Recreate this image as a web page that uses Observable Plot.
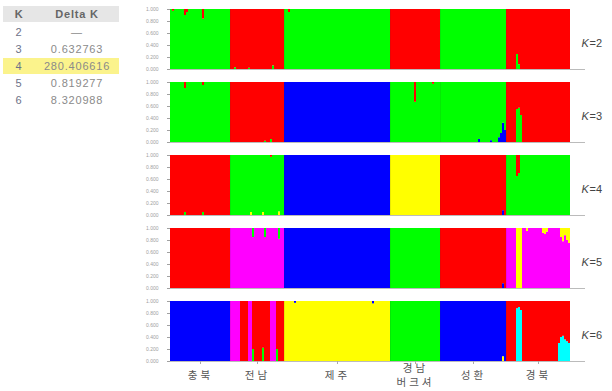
<!DOCTYPE html>
<html><head><meta charset="utf-8">
<script src="https://cdn.jsdelivr.net/npm/d3@7"></script>
<script src="https://cdn.jsdelivr.net/npm/@observablehq/plot@0.6"></script>
<style>
body{margin:0;background:#fff;}
#wrap{position:relative;width:612px;height:391px;overflow:hidden;}
#tbl{position:absolute;left:0;top:0;width:125px;height:112px;font-family:"Liberation Sans",Arial,sans-serif;font-size:11px;letter-spacing:0.8px;z-index:2;}
.row{position:absolute;left:3px;width:116px;height:16px;line-height:16px;color:#8a8a8a;}
.row.head{background:#e6e6e6;color:#666;font-weight:bold;}
.row.hl{background:#fbf38c;}
.k{position:absolute;left:8px;width:16px;text-align:center;color:#6d7288;}
.head .k{color:#666;}
.d{position:absolute;left:32px;width:84px;text-align:center;}
</style></head><body><div id="wrap"><div id="tbl"></div></div>
<script>
// ---- table data ----
const kValues = [2, 3, 4, 5, 6];
const deltaK = ["—", "0.632763", "280.406616", "0.819277", "8.320988"];
const highlightK = 4;

// ---- populations ----
const groupNames = ["충북", "전남", "제주", "경남\n버크셔", "성환", "경북"];
const groupSizes = [30, 27, 53, 25, 33, 32]; // individuals per population (estimated)

// ---- cluster colours ----
const clusterColors = {R: "#ff0000", G: "#00ff00", B: "#0000ff", Y: "#ffff00", M: "#ff00ff", C: "#00ffff"};

// main cluster of each population, per K (rows = K 2..6)
const baseByK = [
  ["G", "R", "G", "R", "G", "R"],
  ["G", "R", "B", "G", "G", "R"],
  ["R", "G", "B", "Y", "R", "G"],
  ["R", "M", "B", "G", "R", "M"],
  ["B", "R", "Y", "G", "B", "R"]
];
// bottom-to-top order of clusters in each bar, per K
const stackOrder = ["GR", "BGR", "BYGR", "BRMGY", "CYGBMR"];

// admixed individuals: [K, individual index, cluster, membership q]
const admixture = [
  [2,1,"R",0.03],[2,7,"R",0.1],[2,8,"R",0.05],[2,16,"R",0.16],
  [2,32,"G",0.03],[2,39,"G",0.02],[2,51,"G",0.06],[2,59,"R",0.05],
  [2,173,"G",0.25],[2,174,"G",0.08],
  [3,7,"R",0.1],[3,16,"R",0.05],[3,47,"G",0.02],[3,50,"G",0.05],
  [3,122,"R",0.33],[3,131,"R",0.03],
  [3,154,"B",0.05],[3,160,"B",0.03],[3,164,"B",0.08],[3,165,"B",0.15],[3,166,"B",0.32],[3,167,"B",0.2],
  [3,173,"G",0.55],[3,174,"G",0.57],[3,175,"G",0.45],
  [4,7,"G",0.05],[4,16,"G",0.05],[4,40,"Y",0.05],[4,46,"Y",0.05],[4,54,"Y",0.06],[4,50,"R",0.03],
  [4,166,"B",0.08],[4,173,"R",0.35],[4,174,"R",0.3],
  [5,41,"G",0.15],[5,47,"G",0.15],[5,54,"G",0.18],[5,166,"B",0.08],
  [5,173,"Y",1],[5,174,"Y",1],[5,175,"Y",1],[5,178,"Y",0.05],
  [5,186,"Y",0.08],[5,187,"Y",0.1],[5,188,"Y",0.06],
  [5,195,"Y",0.15],[5,196,"Y",0.22],[5,197,"Y",0.12],[5,198,"Y",0.2],[5,199,"Y",0.25],
  [6,30,"M",1],[6,31,"M",1],[6,32,"M",1],[6,33,"M",1],[6,34,"M",1],
  [6,39,"M",1],[6,40,"M",1],[6,50,"M",1],[6,51,"M",1],[6,52,"M",1],
  [6,41,"G",0.2],[6,46,"G",0.22],[6,53,"G",0.2],
  [6,62,"B",0.03],[6,101,"B",0.04],[6,166,"Y",0.08],
  [6,173,"C",0.88],[6,174,"C",0.9],[6,175,"C",0.85],
  [6,194,"C",0.3],[6,195,"C",0.4],[6,196,"C",0.42],[6,197,"C",0.36],[6,198,"C",0.33],[6,199,"C",0.3]
];

// ---- table ----
const tbl = document.getElementById("tbl");
const rowTops = [6, 24, 41, 58, 75, 92];
function addRow(top, k, d, cls) {
  const r = document.createElement("div");
  r.className = "row " + cls;
  r.style.top = top + "px";
  r.innerHTML = `<span class="k">${k}</span><span class="d">${d}</span>`;
  tbl.appendChild(r);
}
addRow(rowTops[0], "K", "Delta K", "head");
kValues.forEach((k, i) => addRow(rowTops[i + 1], k, deltaK[i], k === highlightK ? "hl" : ""));

// ---- build bar segments ----
const N = d3.sum(groupSizes);
const rects = [];
kValues.forEach((K, ki) => {
  const order = stackOrder[ki].split("");
  let i = 0;
  groupSizes.forEach((size, g) => {
    for (let j = 0; j < size; j++, i++) {
      const comp = new Map();
      let rest = 1;
      for (const a of admixture) {
        if (a[0] === K && a[1] === i) { comp.set(a[2], (comp.get(a[2]) || 0) + a[3]); rest -= a[3]; }
      }
      const base = baseByK[ki][g];
      if (rest > 1e-9) comp.set(base, (comp.get(base) || 0) + rest);
      let y = 0;
      for (const c of order) {
        if (comp.has(c)) {
          const q = comp.get(c);
          rects.push({K, x1: i, x2: i + 1, y1: y, y2: y + q, color: clusterColors[c]});
          y += q;
        }
      }
    }
  });
});

const starts = [];
let acc = 0;
for (const s of groupSizes) { starts.push(acc); acc += s; }
const groupData = groupNames.map((name, g) => ({name, center: starts[g] + groupSizes[g] / 2, K: 6}));
const boundaries = starts.slice(1);

const chart = Plot.plot({
  width: 612,
  height: 391,
  marginLeft: 170,
  marginRight: 42,
  marginTop: 7,
  marginBottom: 28,
  style: {fontFamily: '"Liberation Sans", Arial, sans-serif', background: "#fff"},
  x: {domain: [0, N]},
  y: {domain: [0, 1]},
  fy: {domain: kValues, paddingInner: 0.176, paddingOuter: 0, axis: null},
  color: {type: "identity"},
  marks: [
    Plot.rect(rects, {x1: "x1", x2: "x2", y1: "y1", y2: "y2", fill: "color", fy: "K"}),
    Plot.ruleX(boundaries, {stroke: "#333", strokeOpacity: 0.18, strokeWidth: 0.6}),
    Plot.ruleY([0], {stroke: "#bbb", strokeWidth: 1, insetRight: -15}),
    Plot.axisY({ticks: [0, 0.2, 0.4, 0.6, 0.8, 1], tickFormat: d3.format(".3f"), fontSize: 5,
      color: "#a0a0a0", tickSize: 3, tickPadding: 9, label: null}),
    Plot.axisX(groupData.map(d => d.center), {facetAnchor: "bottom", tickSize: 3, tickFormat: () => "",
      color: "#aaa", label: null}),
    Plot.text(groupData, {x: "center", text: "name", fy: "K", frameAnchor: "bottom", dy: 13,
      lineAnchor: "middle", lineHeight: 1.3, fontSize: 10.5, fill: "#555",
      fontFamily: '"Noto Sans CJK KR", sans-serif'}),
    Plot.text(kValues, {fy: d => d, frameAnchor: "right", text: () => "K", dx: 11, dy: 4,
      textAnchor: "start", fontStyle: "italic", fontSize: 11, fill: "#444"}),
    Plot.text(kValues, {fy: d => d, frameAnchor: "right", text: d => "=" + d, dx: 19, dy: 4,
      textAnchor: "start", fontSize: 11, fill: "#444"})
  ]
});
d3.select(chart).selectAll("text")
  .filter(function () { return /[\uAC00-\uD7A3]/.test(this.textContent); })
  .attr("letter-spacing", "3px");
document.getElementById("wrap").prepend(chart);
</script>
</body></html>
